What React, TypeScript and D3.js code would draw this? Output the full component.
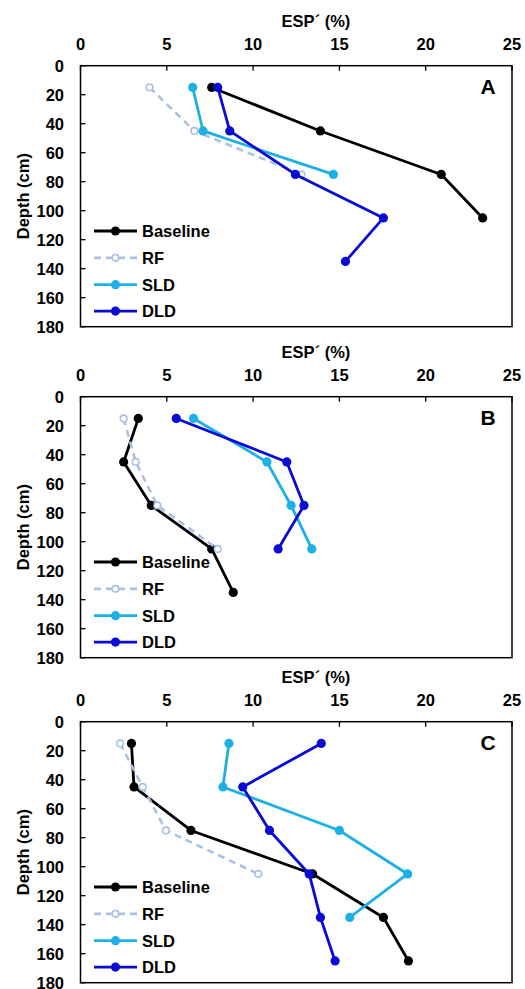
import React from "react";
import * as d3 from "d3";

const depths = [15, 45, 75, 105, 135, 165];
const xTicks = [0, 5, 10, 15, 20, 25];
const yTicks = [0, 20, 40, 60, 80, 100, 120, 140, 160, 180];
const panelLabels = ["A", "B", "C"];
const seriesNames = ["Baseline", "RF", "SLD", "DLD"];

// Panel A
const baselineA = [7.6, 13.9, 20.9, 23.3];
const rfA = [4.0, 6.6, 12.8];
const sldA = [6.5, 7.1, 14.65];
const dldA = [7.95, 8.65, 12.45, 17.55, 15.35];
// Panel B
const baselineB = [3.35, 2.5, 4.1, 7.6, 8.85];
const rfB = [2.5, 3.2, 4.45, 7.95];
const sldB = [6.55, 10.8, 12.2, 13.4];
const dldB = [5.55, 11.95, 12.95, 11.45];
// Panel C
const baselineC = [2.95, 3.1, 6.4, 13.45, 17.55, 19.0];
const rfC = [2.3, 3.6, 4.95, 10.3];
const sldC = [8.6, 8.25, 15.0, 18.95, 15.6];
const dldC = [13.95, 9.4, 10.95, 13.25, 13.9, 14.75];

const panelData = [
  [baselineA, rfA, sldA, dldA],
  [baselineB, rfB, sldB, dldB],
  [baselineC, rfC, sldC, dldC],
];

const colors = ["#000000", "#A9C1E3", "#1DB0E4", "#0A0AD6"];
const panelTops = [65.7, 396.7, 721.7];
const FONT = "'Liberation Sans', Arial, sans-serif";

function Panel({ idx }: { idx: number }) {
  const top = panelTops[idx];
  const x = d3.scaleLinear().domain([0, 25]).range([80.5, 512]);
  const y = d3.scaleLinear().domain([0, 180]).range([top, top + 261]);
  const line = d3
    .line<[number, number]>()
    .x((d) => x(d[0]))
    .y((d) => y(d[1]));
  const data = panelData[idx];
  const legendY = [y(114), y(132.5), y(151), y(169.2)];
  return (
    <g>
      <text
        x={316}
        y={top - 45}
        textAnchor="middle"
        dominantBaseline="central"
        fontFamily={FONT}
        fontWeight="bold"
        fontSize={16.5}
      >
        ESP´ (%)
      </text>
      {xTicks.map((t) => (
        <g key={"x" + t}>
          <text
            x={x(t)}
            y={top - 22}
            textAnchor="middle"
            dominantBaseline="central"
            fontFamily={FONT}
            fontWeight="bold"
            fontSize={16.5}
          >
            {t}
          </text>
          <line x1={x(t)} x2={x(t)} y1={top} y2={top + 5} stroke="#000" strokeWidth={1.3} />
        </g>
      ))}
      {yTicks.map((t) => (
        <g key={"y" + t}>
          <text
            x={64}
            y={y(t)}
            textAnchor="end"
            dominantBaseline="central"
            fontFamily={FONT}
            fontWeight="bold"
            fontSize={16.5}
          >
            {t}
          </text>
          <line x1={x(0)} x2={x(0) + 5} y1={y(t)} y2={y(t)} stroke="#000" strokeWidth={1.3} />
        </g>
      ))}
      <rect
        x={x(0)}
        y={y(0)}
        width={x(25) - x(0)}
        height={y(180) - y(0)}
        fill="none"
        stroke="#000"
        strokeWidth={1.5}
      />
      <text
        transform={`translate(23,${(y(0) + y(180)) / 2}) rotate(-90)`}
        textAnchor="middle"
        dominantBaseline="central"
        fontFamily={FONT}
        fontWeight="bold"
        fontSize={16.5}
      >
        Depth (cm)
      </text>
      <text
        x={488}
        y={top + 21}
        textAnchor="middle"
        dominantBaseline="central"
        fontFamily={FONT}
        fontWeight="bold"
        fontSize={21}
      >
        {panelLabels[idx]}
      </text>
      {data.map((vals, si) => {
        const pts: [number, number][] = vals.map((v, i) => [v, depths[i]]);
        const isRF = si === 1;
        return (
          <g key={"s" + si}>
            <path
              d={line(pts) || ""}
              fill="none"
              stroke={colors[si]}
              strokeWidth={isRF ? 2.6 : 2.8}
              strokeDasharray={isRF ? "7,5" : undefined}
              strokeLinejoin="round"
            />
            {pts.map((p, i) => (
              <circle
                key={i}
                cx={x(p[0])}
                cy={y(p[1])}
                r={isRF ? 3.3 : 4.6}
                fill={isRF ? "#fff" : colors[si]}
                stroke={colors[si]}
                strokeWidth={isRF ? 1.6 : 0}
              />
            ))}
          </g>
        );
      })}
      {seriesNames.map((name, si) => {
        const isRF = si === 1;
        const ly = legendY[si];
        return (
          <g key={"l" + si}>
            <line
              x1={94}
              x2={137}
              y1={ly}
              y2={ly}
              stroke={colors[si]}
              strokeWidth={isRF ? 2.6 : 2.8}
              strokeDasharray={isRF ? "7,5" : undefined}
            />
            <circle
              cx={115.5}
              cy={ly}
              r={isRF ? 3.3 : 4.6}
              fill={isRF ? "#fff" : colors[si]}
              stroke={colors[si]}
              strokeWidth={isRF ? 1.6 : 0}
            />
            <text
              x={142}
              y={ly}
              dominantBaseline="central"
              fontFamily={FONT}
              fontWeight="bold"
              fontSize={16.5}
            >
              {name}
            </text>
          </g>
        );
      })}
    </g>
  );
}

export default function App() {
  return (
    <svg
      width={525}
      height={989}
      style={{ position: "absolute", left: 0, top: 0, background: "#fff" }}
    >
      <rect width={525} height={989} fill="#fff" />
      {[0, 1, 2].map((i) => (
        <Panel key={i} idx={i} />
      ))}
    </svg>
  );
}
